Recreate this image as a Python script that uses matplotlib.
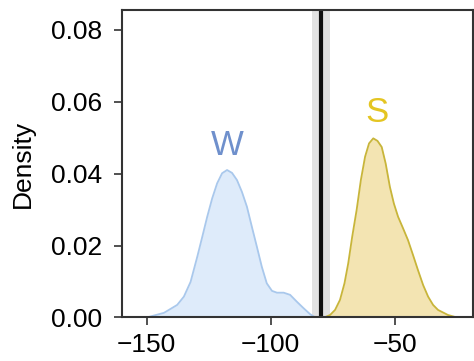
import numpy as np
import matplotlib.pyplot as plt

# density curves (x in data units, y = density)
w_x = [-150, -148.4, -143, -137.7, -135, -132.3, -129.6, -127.6, -125.6, -123.6,
       -121.6, -119.6, -117.6, -115.6, -113.6, -111.6, -109.6, -107.6, -105.6,
       -103.6, -101.6, -99.5, -97.5, -94.8, -92.2, -89.5, -86.8, -84.1, -82]
w_y = [0.0, 0.0003, 0.0013, 0.0035, 0.0058, 0.0099, 0.0169, 0.0224, 0.0280, 0.0331,
       0.0373, 0.0401, 0.0410, 0.0402, 0.0382, 0.0349, 0.0308, 0.0252, 0.0197,
       0.0141, 0.0095, 0.0074, 0.0069, 0.0069, 0.0063, 0.0044, 0.0026, 0.0009, 0.0]

s_x = [-78.1, -76.1, -74.1, -72.1, -70.3, -68.8, -67.2, -65.4, -63.7, -62.0,
       -60.4, -58.7, -57.0, -55.3, -53.7, -52.0, -50.4, -48.7, -46.7, -44.7,
       -42.7, -40.7, -38.6, -36.6, -34.6, -32.6, -28.6, -25]
s_y = [0.0001, 0.0007, 0.0021, 0.0049, 0.0095, 0.0150, 0.0224, 0.0299, 0.0382, 0.0447,
       0.0484, 0.0498, 0.0491, 0.0474, 0.0428, 0.0363, 0.0317, 0.0280, 0.0248, 0.0215,
       0.0174, 0.0132, 0.0090, 0.0058, 0.0035, 0.0021, 0.0007, 0.0]

threshold = -79.9
band = (-83.5, -76.2)

labels = ['W', 'S']
label_x = [-117.7, -57.0]
label_y = [0.0451, 0.0544]

plt.rcParams['font.family'] = ['Liberation Sans', 'DejaVu Sans']

fig = plt.figure(figsize=(4.74, 3.61), dpi=100)
ax = fig.add_axes([0.257, 0.1205, 0.741, 0.852])

ax.fill_between(w_x, w_y, color='#deebfa', lw=0)
ax.plot(w_x, w_y, color='#a9c8ec', lw=1.3)
ax.fill_between(s_x, s_y, color='#f3e4b2', lw=0)
ax.plot(s_x, s_y, color='#c8b53a', lw=1.3)

ax.axvspan(band[0], band[1], color='#e2e2e2', lw=0, zorder=0)
ax.axvline(threshold, color='#111111', lw=3)

ax.text(label_x[0], label_y[0], labels[0], color='#6f90cc', fontsize=25,
        ha='center', va='baseline')
ax.text(label_x[1], label_y[1], labels[1], color='#e4c522', fontsize=25,
        ha='center', va='baseline')

ax.set_xlim(-160, -18.5)
ax.set_ylim(0, 0.0855)
ax.set_xticks([-150, -100, -50])
ax.set_yticks([0, 0.02, 0.04, 0.06, 0.08])
ax.set_yticklabels(['0.00', '0.02', '0.04', '0.06', '0.08'])
ax.set_xticklabels(['\u2212150', '\u2212100', '\u221250'])
ax.tick_params(labelsize=19, length=6, width=1.2, color='#333333', pad=5)
ax.tick_params(axis='y', pad=8)
ax.set_ylabel('Density', fontsize=19, labelpad=12)
for sp in ax.spines.values():
    sp.set_color('#333333')
    sp.set_linewidth(1.5)

fig.savefig('out.png', dpi=100)
